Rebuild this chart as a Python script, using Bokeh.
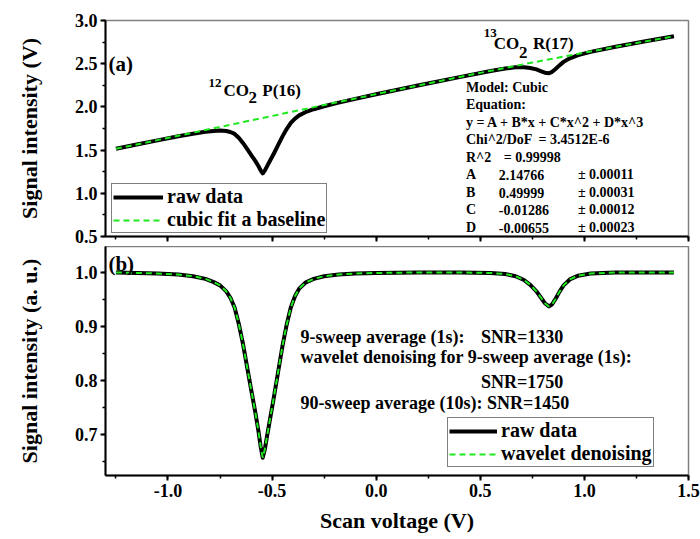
from bokeh.plotting import figure
from bokeh.layouts import column
from bokeh.models import (Legend, LegendItem, Label, SingleIntervalTicker, Range1d,
                          PrintfTickFormatter, CustomJSTickFormatter)
from bokeh.embed import file_html
from bokeh.resources import INLINE

# ---------------- data ----------------
scan_v = [-1.25, -1.15, -1.05, -0.95, -0.88, -0.82, -0.78, -0.75, -0.72, -0.70,
          -0.68, -0.66, -0.64, -0.62, -0.60, -0.58, -0.565, -0.555, -0.545, -0.535,
          -0.525, -0.51, -0.49, -0.47, -0.45, -0.43, -0.41, -0.39, -0.37, -0.34,
          -0.30, -0.25, -0.18, -0.10, 0.00, 0.20, 0.40, 0.55, 0.62, 0.67,
          0.71, 0.74, 0.77, 0.79, 0.81, 0.83, 0.845, 0.86, 0.88, 0.90,
          0.93, 0.97, 1.03, 1.15, 1.30, 1.43]

raw_signal_v = [1.515, 1.564, 1.613, 1.660, 1.690, 1.712, 1.721, 1.726, 1.721, 1.709,
                1.687, 1.642, 1.583, 1.513, 1.442, 1.372, 1.313, 1.266, 1.230, 1.262,
                1.308, 1.376, 1.467, 1.563, 1.659, 1.744, 1.815, 1.865, 1.902, 1.939,
                1.973, 2.008, 2.049, 2.093, 2.146, 2.247, 2.345, 2.415, 2.444, 2.458,
                2.459, 2.450, 2.434, 2.415, 2.396, 2.389, 2.406, 2.436, 2.481, 2.521,
                2.563, 2.599, 2.637, 2.696, 2.762, 2.817]

fit_x = [-1.25, -1.0, -0.75, -0.5, -0.25, 0.0, 0.25, 0.5, 0.75, 1.0, 1.25, 1.43]
fit_baseline = [1.515, 1.641, 1.768, 1.895, 2.022, 2.148, 2.272, 2.394, 2.513, 2.628, 2.740, 2.817]

norm_raw = [1.000, 0.999, 0.998, 0.996, 0.993, 0.988, 0.982, 0.976, 0.965, 0.953,
            0.935, 0.905, 0.868, 0.825, 0.782, 0.740, 0.705, 0.678, 0.657, 0.672,
            0.695, 0.728, 0.772, 0.818, 0.864, 0.903, 0.935, 0.956, 0.970, 0.981,
            0.988, 0.993, 0.996, 0.998, 0.999, 1.000, 1.000, 0.999, 0.997, 0.993,
            0.986, 0.977, 0.965, 0.954, 0.943, 0.937, 0.941, 0.950, 0.964, 0.976,
            0.987, 0.994, 0.998, 1.000, 1.000, 1.000]

norm_wavelet = [1.000, 0.999, 0.998, 0.996, 0.993, 0.988, 0.982, 0.976, 0.965, 0.953,
                0.935, 0.905, 0.868, 0.825, 0.782, 0.740, 0.705, 0.678, 0.657, 0.672,
                0.695, 0.728, 0.772, 0.818, 0.864, 0.903, 0.935, 0.956, 0.970, 0.981,
                0.988, 0.993, 0.996, 0.998, 0.999, 1.000, 1.000, 0.999, 0.997, 0.993,
                0.986, 0.977, 0.965, 0.954, 0.943, 0.937, 0.941, 0.950, 0.964, 0.976,
                0.987, 0.994, 0.998, 1.000, 1.000, 1.000]

FONT = "Liberation Serif"
GREEN = "#1ee81e"


def style(p, ymaj, show_x_labels):
    p.grid.grid_line_color = None
    p.outline_line_color = "#808080"
    p.outline_line_width = 1.5
    p.background_fill_color = "white"
    p.border_fill_color = "white"
    p.xaxis.ticker = SingleIntervalTicker(interval=0.5, num_minor_ticks=2)
    p.yaxis.ticker = SingleIntervalTicker(interval=ymaj, num_minor_ticks=2)
    p.yaxis.formatter = PrintfTickFormatter(format="%.1f")
    for ax in (p.xaxis[0], p.yaxis[0]):
        ax.axis_line_color = "black"
        ax.axis_line_width = 2
        ax.major_tick_line_width = 2
        ax.minor_tick_line_width = 1.5
        ax.major_tick_in = 0
        ax.major_tick_out = 5
        ax.minor_tick_in = 0
        ax.minor_tick_out = 3
        ax.major_label_text_font = FONT
        ax.major_label_text_font_style = "bold"
        ax.major_label_text_font_size = "18px"
        ax.major_label_text_color = "black"
        ax.axis_label_text_font = FONT
        ax.axis_label_text_font_style = "bold"
        ax.axis_label_text_font_size = "22px"
        ax.axis_label_text_color = "black"
    p.yaxis.major_label_standoff = 3
    p.yaxis.axis_label_standoff = 30
    if not show_x_labels:
        p.xaxis.formatter = CustomJSTickFormatter(code="return '';")
        p.xaxis.major_label_standoff = 0
    else:
        p.xaxis.formatter = PrintfTickFormatter(format="%.1f")
        p.xaxis.major_label_standoff = 3
        p.xaxis.axis_label_standoff = 8


def lab(p, x, y, text, size, **kw):
    p.add_layout(Label(x=x, y=y, text=text, text_font=FONT, text_font_style="bold",
                       text_font_size=size, text_color="black", text_baseline="middle", **kw))


def make_legend(items, loc, gw):
    return Legend(items=items, location=loc, margin=0, padding=1, spacing=0,
                  glyph_width=gw, glyph_height=20, label_height=20, label_standoff=4,
                  label_text_font=FONT, label_text_font_style="bold", label_text_font_size="20px",
                  label_text_color="black", label_text_line_height=1.1,
                  border_line_color="black", border_line_width=1, background_fill_alpha=1)


xr = Range1d(-1.3, 1.5)

# ---------------- panel (a) ----------------
p1 = figure(width=700, height=246, x_range=xr, y_range=Range1d(0.5, 3.0),
            output_backend="svg", toolbar_location=None,
            min_border_left=105, min_border_right=12, min_border_top=20, min_border_bottom=10)
style(p1, 0.5, False)
p1.yaxis.axis_label = "Signal intensity (V)"

r_raw1 = p1.line(scan_v, raw_signal_v, line_color="black", line_width=4, line_join="round")
r_fit = p1.line(fit_x, fit_baseline, line_color=GREEN, line_width=2, line_dash="6 4")

p1.add_layout(make_legend([LegendItem(label="raw data", renderers=[r_raw1]),
                           LegendItem(label="cubic fit a baseline", renderers=[r_fit])],
                          (6, 3), 50))

lab(p1, -1.286, 2.50, "(a)", "21px")
lab(p1, -0.805, 2.282, "12", "13px")
lab(p1, -0.733, 2.19, "CO", "17px")
lab(p1, -0.613, 2.112, "2", "17px")
lab(p1, -0.547, 2.19, "P(16)", "17px")
lab(p1, 0.517, 2.861, "13", "13px")
lab(p1, 0.565, 2.734, "CO", "17px")
lab(p1, 0.686, 2.63, "2", "17px")
lab(p1, 0.753, 2.734, "R(17)", "17px")

fit_rows = ["Model: Cubic", "Equation:", "y = A + B*x + C*x^2 + D*x^3", "Chi^2/DoF", "R^2",
            "A", "B", "C", "D"]
fit_vals = ["", "", "", "= 3.4512E-6", "=  0.99998", "2.14766", "0.49999", "-0.01286", "-0.00655"]
fit_errs = ["", "", "", "", "", "\u00b1 0.00011", "\u00b1 0.00031", "\u00b1 0.00012", "\u00b1 0.00023"]
row_y = [2.225, 2.022, 1.819, 1.617, 1.414, 1.212, 1.009, 0.807, 0.604]
for i, t in enumerate(fit_rows):
    lab(p1, 0.431, row_y[i], t, "14px")
    if fit_vals[i]:
        vx = 0.78 if i == 3 else (0.613 if i == 4 else 0.589)
        lab(p1, vx, row_y[i], fit_vals[i], "14px")
    if fit_errs[i]:
        lab(p1, 0.969, row_y[i], fit_errs[i], "14px")

# ---------------- panel (b) ----------------
p2 = figure(width=700, height=292, x_range=xr, y_range=Range1d(0.624, 1.048),
            output_backend="svg", toolbar_location=None,
            min_border_left=105, min_border_right=12, min_border_top=0, min_border_bottom=63)
style(p2, 0.1, True)
p2.yaxis.axis_label = "Signal intensity (a. u.)"
p2.xaxis.axis_label = "Scan voltage (V)"

r_raw2 = p2.line(scan_v, norm_raw, line_color="black", line_width=4, line_join="round")
r_wav = p2.line(scan_v, norm_wavelet, line_color=GREEN, line_width=2, line_dash="6 4")

p2.add_layout(make_legend([LegendItem(label="raw data", renderers=[r_raw2]),
                           LegendItem(label="wavelet denoising", renderers=[r_wav])],
                          (342, 8), 48))

lab(p2, -1.286, 1.016, "(b)", "21px")
lab(p2, -0.363, 0.881, "9-sweep average (1s):", "18px")
lab(p2, 0.503, 0.881, "SNR=1330", "18px")
lab(p2, -0.363, 0.843, "wavelet denoising for 9-sweep average (1s):", "18px")
lab(p2, 0.503, 0.798, "SNR=1750", "18px")
lab(p2, -0.363, 0.759, "90-sweep average (10s): SNR=1450", "18px")

layout = column(p1, p2, spacing=0)
open("out.html", "w").write(file_html(layout, INLINE))
